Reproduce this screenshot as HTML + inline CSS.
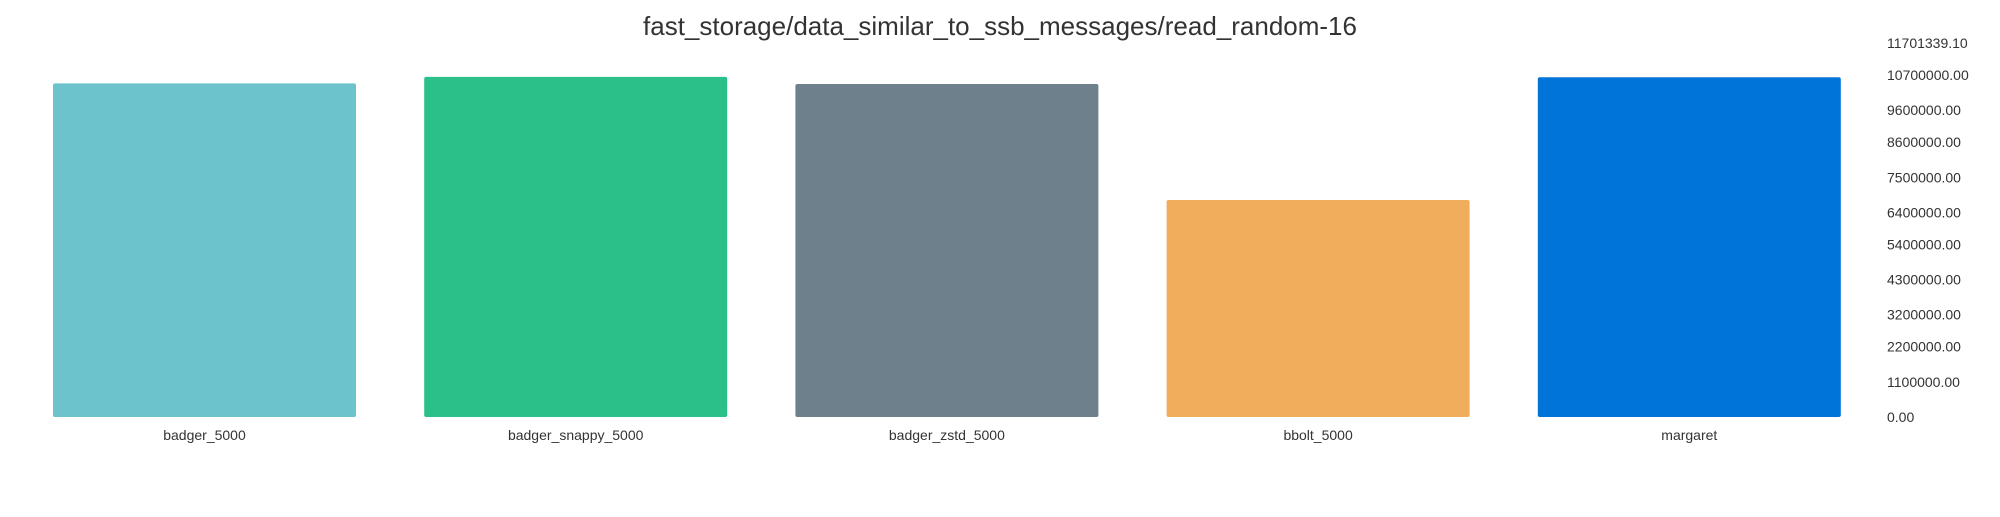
<!DOCTYPE html>
<html><head><meta charset="utf-8"><style>
body{margin:0;background:#fff;width:2000px;height:512px;overflow:hidden;font-family:"Liberation Sans",sans-serif}
</style></head><body>
<svg id="chart" width="2000" height="512" xmlns="http://www.w3.org/2000/svg">
<text x="1000" y="35" text-anchor="middle" font-size="26" fill="#333" font-family="Liberation Sans, sans-serif">fast_storage/data_similar_to_ssb_messages/read_random-16</text>
</svg>
<script>
const categories=["badger_5000","badger_snappy_5000","badger_zstd_5000","bbolt_5000","margaret"];
const values=[10440000,10640000,10420000,6790000,10630000];
const colors=["#6cc3cc","#2bc08a","#6e808b","#f0ae5c","#0074d9"];
const tickLabels=["0.00","1100000.00","2200000.00","3200000.00","4300000.00","5400000.00","6400000.00","7500000.00","8600000.00","9600000.00","10700000.00","11701339.10"];
const tickValues=[0,1100000,2200000,3200000,4300000,5400000,6400000,7500000,8600000,9600000,10700000,11701339.1];
const yMax=11701339.1;
const svg=document.getElementById('chart');
const NS="http://www.w3.org/2000/svg";
const y0=417,yTop=43;
function yScale(v){return y0-(v/yMax)*(y0-yTop);}
function xScale(i){return 53+i*371.2;}
const bw=303;
categories.forEach((c,i)=>{
  const r=document.createElementNS(NS,'rect');
  
  
  const y=yScale(values[i]);
  r.setAttribute('x',xScale(i));r.setAttribute('y',y);
  r.setAttribute('width',bw);r.setAttribute('height',y0-y);
  r.setAttribute('rx',2);r.setAttribute('fill',colors[i]);
  svg.appendChild(r);
  const t=document.createElementNS(NS,'text');
  
  
  t.setAttribute('x',xScale(i)+bw/2);t.setAttribute('y',440);
  t.setAttribute('text-anchor','middle');t.setAttribute('font-size','14');t.setAttribute('fill','#333');
  t.textContent=c;svg.appendChild(t);
});
tickValues.forEach((v,i)=>{
  const t=document.createElementNS(NS,'text');
  
  
  t.setAttribute('x',1887);t.setAttribute('y',yScale(v)+5);
  t.setAttribute('font-size','14');t.setAttribute('fill','#333');
  t.textContent=tickLabels[i];svg.appendChild(t);
});
</script>
</body></html>
